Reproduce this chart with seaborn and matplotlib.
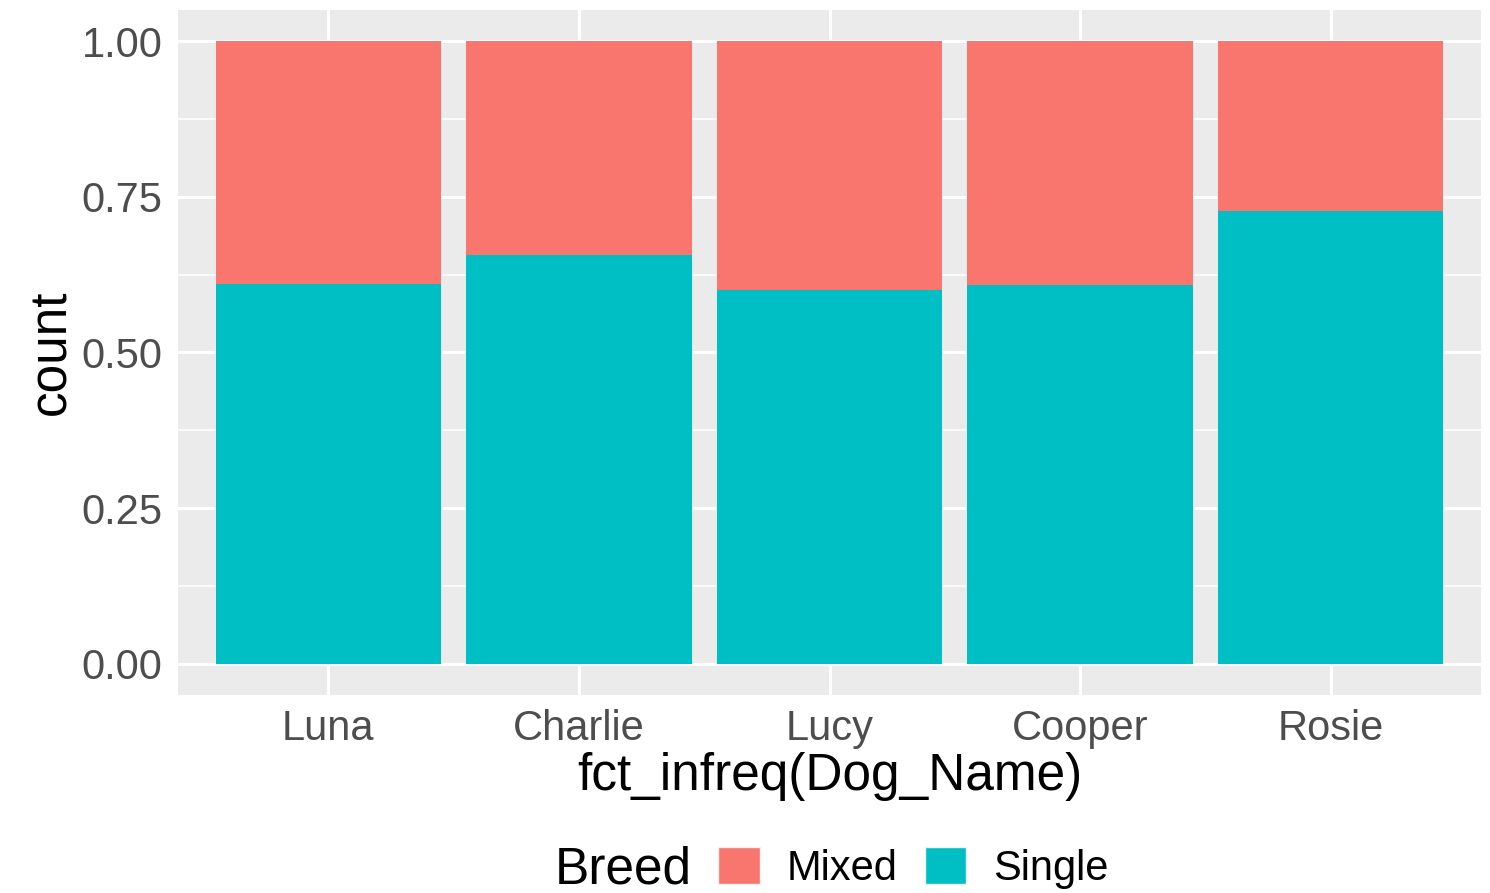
import numpy as np
import pandas as pd
import matplotlib
matplotlib.use("Agg")
import matplotlib.pyplot as plt
import matplotlib.patches as mpatches
import seaborn as sns

# proportions
dog_names = ["Luna", "Charlie", "Lucy", "Cooper", "Rosie"]
single_share = [0.610, 0.657, 0.600, 0.608, 0.727]
mixed_share = [0.390, 0.343, 0.400, 0.392, 0.273]
breeds = ["Mixed", "Single"]
breed_colors = ["#F8766D", "#00BFC4"]

df = pd.DataFrame({"Dog_Name": dog_names,
                   "Single": single_share,
                   "Mixed": mixed_share})
df["Total"] = df["Single"] + df["Mixed"]

sns.set_style("white")
plt.rcParams["font.family"] = ["Liberation Sans", "DejaVu Sans"]
plt.rcParams["text.color"] = "black"

fig = plt.figure(figsize=(14.9, 8.93), dpi=100)
ax = fig.add_axes([178/1490, 1-695/893, (1481-178)/1490, (695-10)/893])
ax.set_facecolor("#EBEBEB")

# stacked: Mixed on top of Single, drawn as total then single over it
sns.barplot(data=df, x="Dog_Name", y="Total", order=dog_names, color=breed_colors[0],
            width=0.9, saturation=1, linewidth=0, ax=ax, zorder=3)
sns.barplot(data=df, x="Dog_Name", y="Single", order=dog_names, color=breed_colors[1],
            width=0.9, saturation=1, linewidth=0, ax=ax, zorder=4)

ax.set_xlim(-0.6, len(dog_names) - 0.4)
ax.set_ylim(-0.05, 1.05)
ax.set_yticks([0, 0.25, 0.5, 0.75, 1.0])
ax.set_yticklabels(["0.00", "0.25", "0.50", "0.75", "1.00"])

for y in [0.125, 0.375, 0.625, 0.875]:
    ax.axhline(y, color="white", lw=1.1, zorder=1)
for y in [0, 0.25, 0.5, 0.75, 1.0]:
    ax.axhline(y, color="white", lw=2.2, zorder=1)
for x in range(len(dog_names)):
    ax.axvline(x, color="white", lw=2.2, zorder=1)

for s in ax.spines.values():
    s.set_visible(False)

ax.tick_params(axis="both", which="major", length=7, width=2.2, color="#333333",
               labelsize=30, labelcolor="#4D4D4D", direction="out", pad=3)
ax.tick_params(axis="y", pad=4)
ax.set_xlabel("fct_infreq(Dog_Name)", fontsize=37, color="black", labelpad=2)
ax.set_ylabel("count", fontsize=37, color="black", labelpad=4)

handles = [mpatches.Patch(facecolor=c, edgecolor="#F2F2F2", linewidth=1, label=b)
           for b, c in zip(breeds, breed_colors)]
fig.text(555/1490, 1-870/893, "Breed", fontsize=37, color="black", ha="left", va="center")
leg = fig.legend(handles=handles, loc="center left", bbox_to_anchor=(718/1490, 1-868/893),
                 ncol=2, frameon=False, fontsize=30, handlelength=1.0, handleheight=1.0,
                 handletextpad=0.65, columnspacing=0.65, borderpad=0, borderaxespad=0)
for t in leg.get_texts():
    t.set_color("black")

fig.savefig("out.png", dpi=100)
